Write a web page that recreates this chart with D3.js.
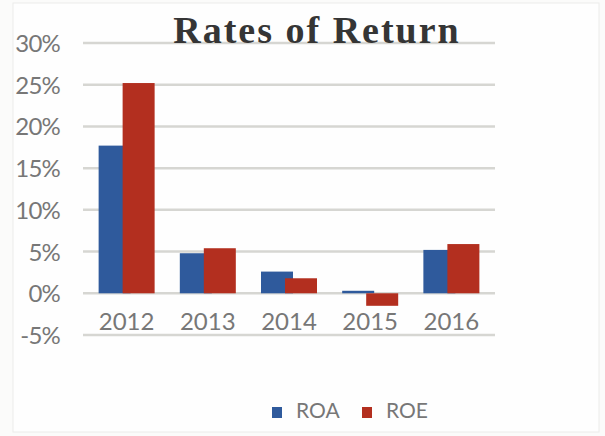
<!DOCTYPE html>
<html><head><meta charset="utf-8">
<script src="https://cdn.jsdelivr.net/npm/d3@7"></script>
<style>body{margin:0;background:#fbfbfa;}svg{display:block;}</style>
</head><body>
<svg id="c" width="605" height="436"></svg>
<script>
const years = ["2012","2013","2014","2015","2016"];
const series = ["ROA","ROE"];
const roa = [17.7, 4.8, 2.6, 0.3, 5.2];
const roe = [25.2, 5.4, 1.8, -1.5, 5.9];
const yTicks = [-5, 0, 5, 10, 15, 20, 25, 30];
const colors = {ROA:"#2f5a9c", ROE:"#b32f1f"};

const svg = d3.select("#c");
svg.append("rect").attr("x",13).attr("y",3).attr("width",586).attr("height",429)
  .attr("fill","#fefefe").attr("stroke","#ececea").attr("stroke-width",1);

const y = d3.scaleLinear().domain([-5,30]).range([335,43]);
const x = d3.scaleBand().domain(years).range([84,494]).paddingInner(0.31).paddingOuter(0.18);

// gridlines
svg.append("g").selectAll("line").data(yTicks).join("line")
  .attr("x1",83).attr("x2",495)
  .attr("y1",d=>y(d)).attr("y2",d=>y(d))
  .attr("stroke","#d6d6d2").attr("stroke-width",2.5);

// y labels
svg.append("g").selectAll("text").data(yTicks).join("text")
  .attr("x",60).attr("y",d=>y(d)+9)
  .attr("text-anchor","end")
  .attr("font-family","Lato, 'Open Sans', sans-serif")
  .attr("font-size",24).attr("fill","#777")
  .attr("letter-spacing",-0.8)
  .text(d=>d+"%");

const bw = 32, off = 24;
const data = years.map((yr,i)=>({yr, roa:roa[i], roe:roe[i]}));
const g = svg.append("g");
data.forEach(d=>{
  const cx = x(d.yr) + x.bandwidth()/2;
  const x0 = cx - (bw+off)/2;
  [["ROA",d.roa,x0],["ROE",d.roe,x0+off]].forEach(([s,v,bx])=>{
    g.append("rect").attr("x",bx).attr("width",bw)
      .attr("y",y(Math.max(0,v))).attr("height",Math.abs(y(v)-y(0)))
      .attr("fill",colors[s]);
  });
});

// x labels
svg.append("g").selectAll("text").data(years).join("text")
  .attr("x",d=>x(d)+x.bandwidth()/2).attr("y",330)
  .attr("text-anchor","middle")
  .attr("font-family","Lato, 'Open Sans', sans-serif")
  .attr("font-size",24).attr("fill","#777")
  .text(d=>d);

// title
svg.append("text").attr("x",317).attr("y",43).attr("text-anchor","middle")
  .attr("font-family","'Liberation Serif', serif").attr("font-weight","bold")
  .attr("font-size",38).attr("letter-spacing",2).attr("fill","#353535").text("Rates of Return");

// legend
const leg = svg.append("g");
const items = [{s:"ROA",x:272},{s:"ROE",x:362}];
items.forEach(it=>{
  leg.append("rect").attr("x",it.x).attr("y",407).attr("width",10).attr("height",11).attr("fill",colors[it.s]);
  leg.append("text").attr("x",it.x+24).attr("y",418)
    .attr("font-family","Lato, 'Open Sans', sans-serif")
    .attr("font-size",21).attr("fill","#777")
    .text(it.s);
});
</script>
</body></html>
